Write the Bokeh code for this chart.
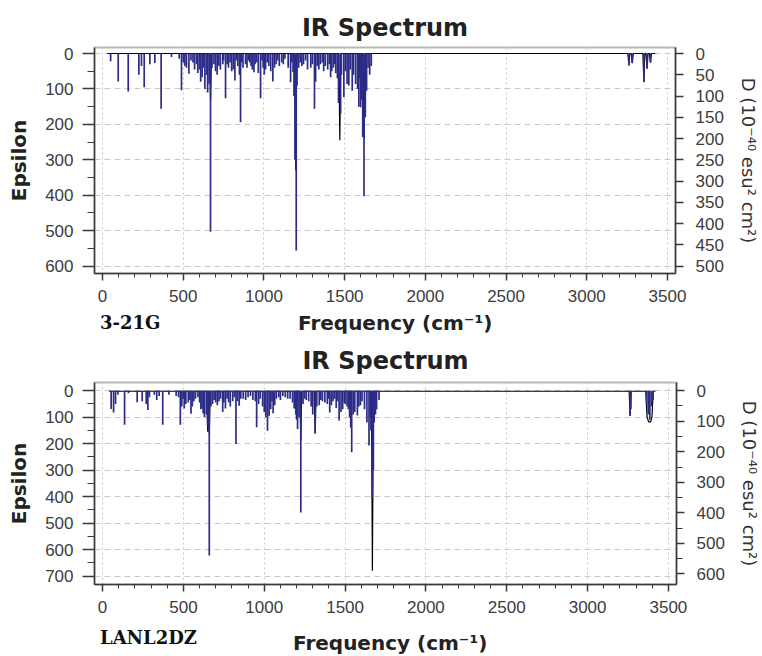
from bokeh.plotting import figure
from bokeh.models import Range1d, LinearAxis, SingleIntervalTicker, Title, Div
from bokeh.layouts import column
from bokeh.embed import file_html
from bokeh.resources import INLINE

# ---------------- data ----------------
# Panel 1: 3-21G stick spectrum (frequency cm-1, epsilon)
freq_321g = [50, 97, 159, 225, 241, 258, 293, 324, 363, 427, 475, 489, 500, 510, 520,
             535, 548, 560, 570, 582, 590, 600, 608, 617, 625, 634, 645, 651, 660, 669,
             678, 690, 700, 710, 720, 730, 745, 750, 762, 772, 780, 790, 800, 810, 820,
             830, 838, 848, 855, 862, 870, 886, 895, 905, 912, 920, 928, 938, 945, 955,
             965, 979, 988, 995, 1002, 1010, 1020, 1030, 1042, 1055, 1065, 1075, 1085,
             1095, 1110, 1120, 1130, 1150, 1165, 1172, 1180, 1186, 1192, 1196, 1200,
             1205, 1215, 1225, 1235, 1245, 1258, 1270, 1290, 1300, 1313, 1320, 1330,
             1340, 1350, 1362, 1370, 1380, 1395, 1405, 1413, 1420, 1430, 1438, 1445,
             1455, 1462, 1475, 1480, 1495, 1505, 1515, 1526, 1535, 1547, 1555, 1568,
             1580, 1588, 1592, 1599, 1605, 1612, 1620, 1628, 1636, 1645, 1655, 1665,
             3261, 3282, 3354, 3374, 3395]
eps_321g = [22, 79, 107, 60, 35, 95, 30, 27, 156, 10, 15, 104, 25, 35, 40,
            57, 20, 25, 45, 30, 55, 45, 80, 67, 40, 100, 60, 110, 85, 503,
            40, 30, 50, 60, 35, 45, 30, 20, 126, 30, 40, 25, 50, 45, 76,
            20, 35, 60, 194, 25, 40, 30, 40, 20, 25, 35, 45, 53, 30, 25,
            55, 126, 20, 40, 60, 45, 25, 35, 50, 79, 40, 30, 20,
            35, 25, 30, 15, 40, 81, 25, 52, 120, 300, 200, 556,
            90, 40, 25, 35, 30, 20, 45, 40, 30, 156, 80, 35,
            45, 30, 25, 50, 35, 45, 30, 67, 50, 40, 30, 55,
            70, 140, 170, 60, 123, 50, 86, 90, 45, 105, 60, 86,
            100, 150, 70, 152, 130, 236, 403, 180, 105, 40, 60, 35,
            34, 27, 81, 43, 25]
# Panel 1 envelope (black curve)
env_321g_x = [30, 663, 669, 675, 1191, 1197, 1203, 1464, 1470, 1476, 1614, 1620, 1626,
              3255, 3261, 3267, 3276, 3282, 3288, 3348, 3354, 3360, 3368, 3374, 3380,
              3389, 3395, 3401, 3425]
env_321g_y = [0, 0, 130, 0, 0, 330, 0, 0, 245, 0, 0, 240, 0,
              0, 33, 0, 0, 27, 0, 0, 80, 0, 0, 42, 0,
              0, 25, 0, 0]

# Panel 2: LANL2DZ
freq_lanl = [53, 68, 80, 95, 136, 160, 214, 245, 270, 280, 290, 320, 335, 350, 372,
             410, 455, 470, 481, 490, 498, 505, 515, 530, 540, 547, 555, 565, 575,
             590, 600, 608, 615, 622, 630, 642, 650, 655, 660, 670, 680, 690, 700,
             710, 720, 730, 743, 750, 760, 770, 780, 790, 805, 815, 825, 835, 845,
             855, 870, 885, 900, 915, 930, 945, 953, 965, 975, 990, 1000, 1010, 1020,
             1030, 1040, 1048, 1055, 1065, 1075, 1090, 1100, 1115, 1130, 1145, 1160,
             1175, 1185, 1195, 1200, 1206, 1215, 1226, 1240, 1250, 1260, 1275, 1290,
             1300, 1315, 1325, 1340, 1350, 1360, 1375, 1390, 1395, 1405, 1415, 1425,
             1435, 1445, 1455, 1463, 1475, 1485, 1495, 1500, 1512, 1520, 1528, 1535,
             1541, 1550, 1560, 1576, 1585, 1595, 1605, 1620, 1635, 1648, 1655, 1660,
             1669, 1675, 1680, 1688, 1695, 1710,
             3263, 3268, 3365, 3375, 3385, 3395, 3405]
eps_lanl = [69, 82, 50, 15, 129, 10, 44, 40, 50, 73, 25, 15, 35, 20, 129,
            15, 20, 25, 129, 60, 30, 67, 50, 45, 35, 87, 60, 40, 30,
            25, 45, 70, 67, 85, 100, 90, 132, 150, 622, 60, 50, 35, 45,
            55, 40, 30, 80, 45, 67, 30, 45, 60, 40, 25, 201, 40, 57,
            30, 30, 35, 25, 20, 35, 40, 138, 50, 30, 60, 80, 100, 151,
            95, 70, 40, 85, 55, 30, 25, 35, 20, 25, 30, 30,
            45, 67, 90, 110, 145, 100, 460, 50, 30, 35, 40, 60,
            90, 163, 60, 55, 35, 40, 45, 50, 30, 82, 55, 40,
            30, 65, 40, 113, 80, 70, 45, 50, 60, 70, 100, 140,
            232, 90, 80, 94, 60, 55, 40, 70, 120, 207, 100, 150,
            405, 300, 120, 90, 70, 35,
            94, 70, 50, 90, 110, 60, 35]
env_lanl_x = [40, 644, 650, 655, 660, 666, 1220, 1226, 1232, 1309, 1315, 1321, 1663,
              1669, 1675, 3257, 3263, 3269, 3360, 3368, 3378, 3390, 3398, 3406, 3420]
env_lanl_y = [2, 2, 155, 100, 160, 2, 2, 190, 2, 2, 160, 2, 2,
              680, 2, 2, 95, 2, 2, 100, 118, 118, 100, 2, 2]

x_ticks_interval = 500
title_text = "IR Spectrum"
x_label = "Frequency (cm\u207b\u00b9)"
y_label = "Epsilon"
y2_label = "D (10\u207b\u2074\u2070 esu\u00b2 cm\u00b2)"
model_labels = ["3-21G", "LANL2DZ"]

STICK = "#2c2c88"
AX = "#3a3a3a"


def make_panel(freq, eps, envx, envy, yr, y2r, y2_interval, y2_minor,
               left_border, top_border, frame_w, frame_h, title_standoff):
    p = figure(frame_width=frame_w, frame_height=frame_h,
               x_range=Range1d(-50, 3550), y_range=Range1d(yr[0], yr[1]),
               output_backend="svg", toolbar_location=None,
               min_border_left=left_border, min_border_right=84,
               min_border_top=top_border, min_border_bottom=36,
               background_fill_color="white", border_fill_color="white")
    p.title = Title(text=title_text, align="center", text_font="DejaVu Sans",
                    text_font_style="bold", text_font_size="24px", text_color="#222222",
                    standoff=title_standoff)
    p.outline_line_color = "#b8b8b8"
    p.outline_line_width = 2

    p.xgrid.grid_line_color = "#c8c8c8"
    p.xgrid.grid_line_dash = "2 3"
    p.ygrid.grid_line_color = "#c8c8c8"
    p.ygrid.grid_line_dash = "6 4"

    xa = p.xaxis[0]
    xa.ticker = SingleIntervalTicker(interval=x_ticks_interval, num_minor_ticks=5)
    xa.major_tick_out = 7
    xa.major_tick_in = 0
    xa.minor_tick_out = 4
    xa.minor_tick_in = 0
    xa.major_label_standoff = 9

    ya = p.yaxis[0]
    ya.ticker = SingleIntervalTicker(interval=100, num_minor_ticks=2)
    ya.axis_label = y_label
    ya.major_tick_out = 12
    ya.major_tick_in = 0
    ya.minor_tick_out = 7
    ya.minor_tick_in = 0
    ya.major_label_standoff = 9
    ya.axis_label_standoff = 11
    ya.axis_label_text_font = "DejaVu Sans"
    ya.axis_label_text_font_style = "bold"
    ya.axis_label_text_font_size = "20px"
    ya.axis_label_text_color = "#222222"

    p.extra_y_ranges = {"d": Range1d(y2r[0], y2r[1])}
    ra = LinearAxis(y_range_name="d", axis_label=y2_label,
                    ticker=SingleIntervalTicker(interval=y2_interval,
                                                num_minor_ticks=y2_minor))
    ra.major_tick_out = 8
    ra.major_tick_in = 0
    ra.minor_tick_out = 6
    ra.minor_tick_in = 0
    ra.major_label_standoff = 12
    ra.axis_label_standoff = 11
    ra.axis_label_text_font = "DejaVu Sans"
    ra.axis_label_text_font_style = "normal"
    ra.axis_label_text_font_size = "18px"
    ra.axis_label_text_color = "#333333"
    p.add_layout(ra, "right")

    for ax in [xa, ya, ra]:
        ax.axis_line_color = AX
        ax.axis_line_width = 1.5
        ax.major_tick_line_color = AX
        ax.major_tick_line_width = 1.5
        ax.minor_tick_line_color = AX
        ax.major_label_text_font = "Liberation Sans"
        ax.major_label_text_font_size = "17px"
        ax.major_label_text_color = "#3c3c3c"
    if y2_minor < 2:
        ra.minor_tick_line_color = None

    p.line(envx, envy, line_color="black", line_width=1.2)
    p.segment(x0=freq, y0=[0] * len(freq), x1=freq, y1=eps,
              line_color=STICK, line_width=1.7)
    return p


def label_row(model, freq_left, model_top, freq_top, height):
    html = (
        '<div style="position:relative;width:740px;height:%dpx;">'
        '<span style="position:absolute;left:100px;top:%dpx;font-family:\'DejaVu Serif\';'
        'font-weight:bold;font-size:18px;color:#111111;white-space:nowrap;">%s</span>'
        '<span style="position:absolute;left:%dpx;top:%dpx;font-family:\'DejaVu Sans\';'
        'font-weight:bold;font-size:20px;color:#222222;white-space:nowrap;">%s</span>'
        '</div>' % (height, model_top, model, freq_left, freq_top, x_label)
    )
    return Div(text=html, width=740, height=height, margin=0)


p1 = make_panel(freq_321g, eps_321g, env_321g_x, env_321g_y,
                (621, -17), (517.5, -14.2), 50, 0, 94, 47, 581, 226, 12)
d1 = label_row(model_labels[0], 298, 1, 0, 24)

p2 = make_panel(freq_lanl, eps_lanl, env_lanl_x, env_lanl_y,
                (732, -31), (635, -27), 100, 2, 91, 49, 582, 202, 16)
d2 = label_row(model_labels[1], 293, 5, 9, 32)

layout = column(p1, d1, p2, d2, spacing=0)
open("out.html", "w").write(file_html(layout, INLINE))
